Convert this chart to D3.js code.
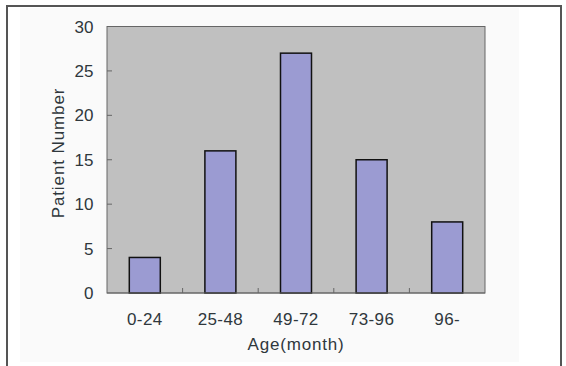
<!DOCTYPE html>
<html><head><meta charset="utf-8">
<script src="https://cdn.jsdelivr.net/npm/d3@7"></script>
<style>
html,body{margin:0;padding:0;background:#fff;}
svg{display:block;}
text{font-family:"Liberation Sans",Arial,sans-serif;fill:#2f373c;}
</style></head>
<body>
<svg id="chart" width="566" height="366"></svg>
<script>
const categories = ["0-24","25-48","49-72","73-96","96-"];
const patientCounts = [4,16,27,15,8];
const yTickValues = [0,5,10,15,20,25,30];
const xTitle = "Age(month)";
const yTitle = "Patient Number";

const svg = d3.select("#chart");
const plot = {left:107, right:485, top:26.5, bottom:293};

// outer frame & light panel
svg.append("rect").attr("x",7).attr("y",6).attr("width",554).attr("height",400)
  .attr("fill","#fff").attr("stroke","#555").attr("stroke-width",2);
svg.append("rect").attr("x",20).attr("y",8).attr("width",499).attr("height",354)
  .attr("fill","#fafafa");

const x = d3.scaleBand().domain(categories).range([plot.left, plot.right])
  .paddingInner(0.59).paddingOuter(0.295);
const xOuter = d3.scaleBand().domain(categories).range([plot.left, plot.right]);
const y = d3.scaleLinear().domain([0,30]).range([plot.bottom, plot.top]);

// plot background
svg.append("rect").attr("x",plot.left).attr("y",plot.top)
  .attr("width",plot.right-plot.left).attr("height",plot.bottom-plot.top)
  .attr("fill","#c0c0c0").attr("stroke","#666").attr("stroke-width",1);

// y ticks (inward)
svg.append("g").selectAll("line").data(yTickValues.filter(v=>v>0 && v<30)).join("line")
  .attr("x1",plot.left).attr("x2",plot.left+5)
  .attr("y1",d=>y(d)).attr("y2",d=>y(d))
  .attr("stroke","#666").attr("stroke-width",1);

// x ticks at boundaries (inward)
svg.append("g").selectAll("line").data(categories.slice(1)).join("line")
  .attr("x1",d=>xOuter(d)).attr("x2",d=>xOuter(d))
  .attr("y1",plot.bottom).attr("y2",plot.bottom-5)
  .attr("stroke","#666").attr("stroke-width",1);

// bars
svg.append("g").selectAll("rect").data(categories).join("rect")
  .attr("x",d=>x(d)).attr("width",x.bandwidth())
  .attr("y",(d,i)=>y(patientCounts[i]))
  .attr("height",(d,i)=>y(0)-y(patientCounts[i]))
  .attr("fill","#9b9bd2").attr("stroke","#111").attr("stroke-width",1.5);

// redraw bottom axis line
svg.append("line").attr("x1",plot.left).attr("x2",plot.right)
  .attr("y1",plot.bottom).attr("y2",plot.bottom).attr("stroke","#666");

// y tick labels
svg.append("g").selectAll("text").data(yTickValues).join("text")
  .attr("x",93.5).attr("y",d=>y(d)).attr("dy","0.36em")
  .attr("text-anchor","end").style("font-size","17px").text(d=>d);

// x tick labels
svg.append("g").selectAll("text").data(categories).join("text")
  .attr("x",d=>x(d)+x.bandwidth()/2).attr("y",324.5)
  .attr("text-anchor","middle").style("font-size","17px").style("letter-spacing","0.4px").text(d=>d);

// axis titles
svg.append("text").attr("x",(plot.left+plot.right)/2).attr("y",350)
  .attr("text-anchor","middle").style("font-size","17px").style("letter-spacing","0.8px").text(xTitle);
svg.append("text").attr("transform","translate(64,153) rotate(-90)")
  .attr("text-anchor","middle").style("font-size","17px").style("letter-spacing","0.9px").text(yTitle);
</script>
</body></html>
